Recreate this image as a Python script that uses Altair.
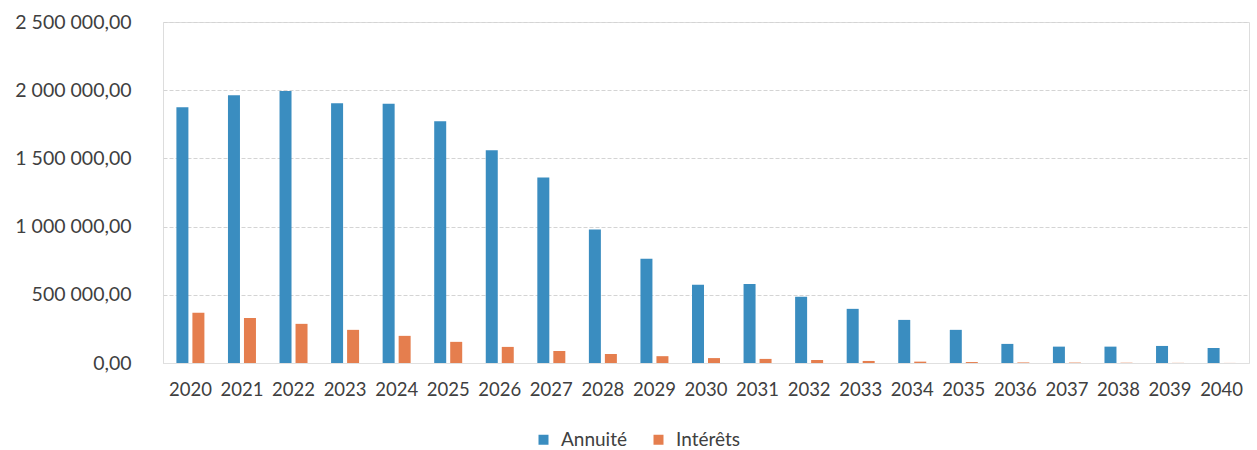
import altair as alt
import pandas as pd

years = [str(y) for y in range(2020, 2041)]
annuite = [1875000, 1963000, 1995000, 1904000, 1900000, 1772000, 1559000, 1360000,
           978000, 765000, 573000, 580000, 485000, 397000, 316000, 243000,
           140000, 120000, 120000, 125000, 110000]
interets = [368000, 330000, 287000, 243000, 199000, 155000, 118000, 88000,
            66000, 50000, 36000, 30000, 22000, 15000, 10000, 7000,
            4000, 3000, 2000, 1000, 500]

series = ["Annuité", "Intérêts"]
colors = ["#3a8dc0", "#e57e4e"]

rows = []
for i, y in enumerate(years):
    rows.append({"annee": y, "serie": series[0], "valeur": annuite[i]})
    rows.append({"annee": y, "serie": series[1], "valeur": interets[i]})
df = pd.DataFrame(rows)

FONT = "Lato"

chart = alt.Chart(df).mark_bar().encode(
    x=alt.X("annee:N", title=None, sort=years,
            scale=alt.Scale(paddingInner=0.457, paddingOuter=0.26),
            axis=alt.Axis(labelAngle=0, ticks=False, domain=True, domainColor="#e0e0e0",
                          labelFontSize=18.5, labelColor="#404040", labelFont=FONT,
                          labelPadding=17, grid=False)),
    xOffset=alt.XOffset("serie:N", sort=series, scale=alt.Scale(paddingInner=0.25)),
    y=alt.Y("valeur:Q", title=None,
            scale=alt.Scale(domain=[0, 2500000], nice=False),
            axis=alt.Axis(values=[0, 500000, 1000000, 1500000, 2000000, 2500000],
                          format=",.2f", ticks=False, domain=False,
                          labelFontSize=19.5, labelColor="#404040", labelFont=FONT,
                          labelPadding=32, gridColor="#d4d4d4", gridDash=[4, 2])),
    color=alt.Color("serie:N", sort=series,
                    scale=alt.Scale(domain=series, range=colors),
                    legend=alt.Legend(title=None, orient="none", direction="horizontal",
                                      legendX=371, legendY=408, symbolType="square",
                                      symbolSize=100, labelFontSize=19, labelFont=FONT,
                                      labelColor="#404040", columnPadding=22,
                                      labelOffset=8, symbolStrokeWidth=0)),
).properties(
    width=1086, height=341,
    autosize=alt.AutoSizeParams(type="none"),
    padding={"left": 163, "top": 22, "right": 8, "bottom": 87},
).configure_view(stroke=None).configure(
    locale={"number": {"decimal": ",", "thousands": "\u00a0", "grouping": [3],
                       "currency": ["", " €"]}}
)

chart.save("out.html", embed_options={"renderer": "svg", "actions": False})
